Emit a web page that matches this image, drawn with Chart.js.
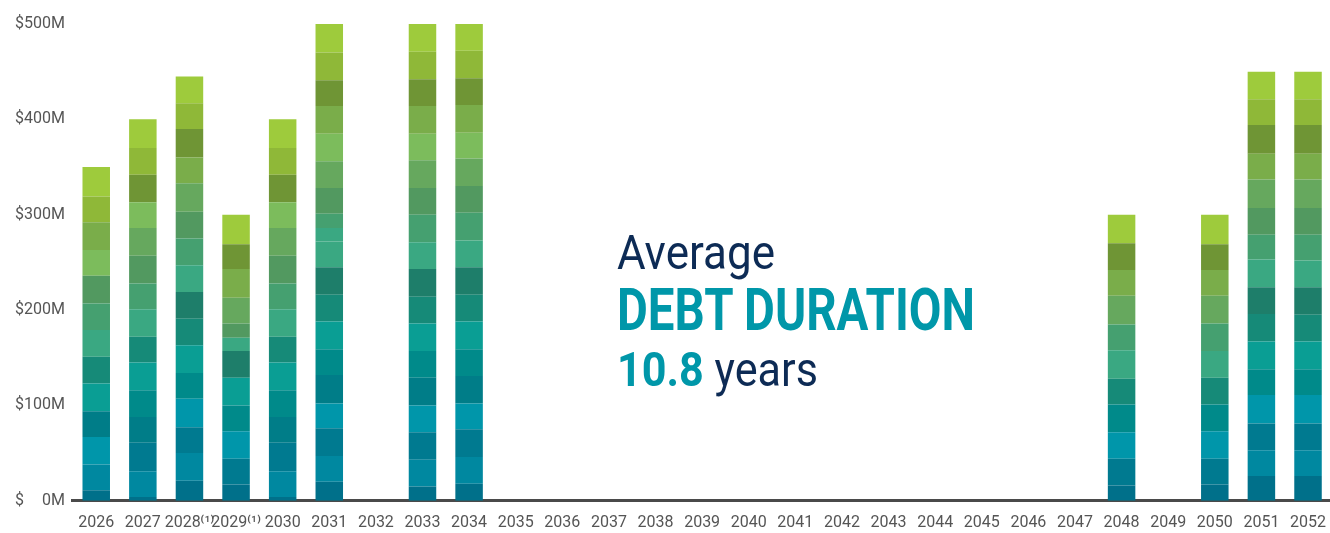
<!DOCTYPE html>
<html lang="en">
    <head>
        <meta charset="UTF-8">
        <title>Debt Maturities</title>
        <style>
            html, body { margin: 0; padding: 0; background: #fff; overflow: hidden; }
            #wrap { position: relative; width: 1335px; height: 533px; }
            .note { position: absolute; left: 617px; white-space: nowrap; font-family: Roboto, sans-serif; line-height: 1; transform-origin: 0 0; }
            .navy { color: #0d2b55; }
            .teal { color: #0097a9; font-weight: bold; }
        </style>
    </head>
    <body>
        <div id="wrap">
            <canvas id="maturities"></canvas>
            <div class="note navy" data-w="158" style="top: 228px; font-size: 49px;">Average</div>
            <div class="note teal" data-w="358" style="top: 280px; font-size: 59px;">DEBT DURATION</div>
            <div class="note" data-w="201" style="top: 346px; font-size: 48px;"><span class="teal">10.8</span> <span class="navy">years</span></div>
        </div>
    </body>

    <script src="https://cdn.jsdelivr.net/npm/chart.js@4.4.1/dist/chart.umd.min.js"></script>

    <script>
        const yearLabels = ["2026", "2027", "2028⁽¹⁾", "2029⁽¹⁾", "2030", "2031", "2032", "2033", "2034", "2035", "2036", "2037", "2038", "2039",
            "2040", "2041", "2042", "2043", "2044", "2045", "2046", "2047", "2048", "2049", "2050", "2051", "2052"];
        const yTickLabels = ["$\u2007\u20070M", "$100M", "$200M", "$300M", "$400M", "$500M"];

        // each bar is made of stacked tranches, bottom first ($M)
        const seg2026 = [11, 27, 29, 27, 29, 28, 28, 28, 29, 27, 29, 27, 31];
        const seg2027 = [4, 27, 30, 27, 28, 29, 27, 29, 27, 29, 29, 27, 29, 28, 30];
        const seg2028 = [21, 29, 27, 30, 27, 29, 28, 28, 28, 28, 28, 30, 27, 30, 27, 28];
        const seg2029 = [17, 27, 29, 27, 29, 28, 14, 15, 27, 30, 26, 31];
        const seg2030 = [4, 27, 30, 27, 28, 29, 27, 29, 27, 29, 29, 27, 29, 28, 30];
        const seg2031 = [20, 27, 29, 26, 30, 27, 29, 28, 29, 27, 14, 15, 27, 28, 29, 29, 27, 29, 30];
        const seg2033 = [15, 28, 29, 28, 29, 28, 29, 28, 29, 28, 29, 28, 29, 28, 29, 28, 29, 29];
        const seg2034 = [18, 28, 29, 27, 29, 28, 29, 28, 29, 28, 29, 28, 29, 27, 29, 28, 29, 28];
        const seg2048 = [16, 28, 28, 29, 27, 30, 27, 30, 27, 28, 30];
        const seg2050 = [17, 27, 29, 28, 28, 28, 29, 29, 27, 27, 31];
        const seg2051 = [26, 27, 28, 30, 27, 29, 29, 28, 29, 26, 28, 30, 27, 30, 27, 29];
        const seg2052 = [26, 27, 28, 30, 27, 29, 28, 29, 28, 27, 28, 30, 27, 30, 27, 29];

        const segments = [seg2026, seg2027, seg2028, seg2029, seg2030, seg2031, [], seg2033, seg2034,
            [], [], [], [], [], [], [], [], [], [], [], [], [], seg2048, [], seg2050, seg2051, seg2052];

        // bottom (blue) to top (lime)
        const shades = ["#00708a", "#0088a0", "#007a90", "#0096aa", "#007d88", "#008a8a", "#0a9e94", "#168a78", "#1e7e6a",
            "#3aa882", "#45a070", "#529960", "#66a85e", "#7cbc5c", "#7aad4a", "#6f9535", "#8fb838", "#9ecb3c"];

        const layers = Math.max(...segments.map(s => s.length));
        const datasets = [];
        for (let j = 0; j < layers; j++) {
            datasets.push({
                data: segments.map(s => (j < s.length ? s[j] : null)),
                backgroundColor: c => {
                    const n = segments[c.dataIndex].length;
                    if (n < 2) return shades[0];
                    return shades[Math.round(c.datasetIndex * (shades.length - 1) / (n - 1))];
                },
                borderWidth: 0,
                barPercentage: 0.59,
                categoryPercentage: 1,
            });
        }

        const tickFont = { family: "Roboto, sans-serif", size: 16 };

        const ctx = document.getElementById("maturities").getContext("2d");
        const chart = new Chart(ctx, {
            type: "bar",
            data: { labels: yearLabels, datasets: datasets },
            options: {
                responsive: true,
                maintainAspectRatio: false,
                animation: false,
                layout: { autoPadding: false, padding: { left: 7, top: 24, right: 0, bottom: -5 } },
                plugins: { legend: { display: false }, tooltip: { enabled: false } },
                scales: {
                    x: {
                        stacked: true,
                        grid: { display: false },
                        border: { display: true, color: "#4a4a4a", width: 3 },
                        ticks: { color: "#555", font: { family: "Roboto, sans-serif", size: 16, lineHeight: 0.7 }, maxRotation: 0, autoSkip: false, padding: 9 },
                    },
                    y: {
                        stacked: true,
                        min: 0,
                        max: 500,
                        grid: { display: false, drawTicks: false },
                        border: { display: false },
                        ticks: {
                            stepSize: 100,
                            color: "#555",
                            font: tickFont,
                            padding: 8,
                            callback: (v) => yTickLabels[v / 100],
                        },
                    },
                },
            },
        });

        // squeeze the callout lines to the width they take in the original
        document.fonts.ready.then(() => {
            document.querySelectorAll(".note").forEach(el => {
                const w = el.getBoundingClientRect().width;
                el.style.transform = "scaleX(" + (Number(el.dataset.w) / w) + ")";
            });
        });
    </script>
</html>
